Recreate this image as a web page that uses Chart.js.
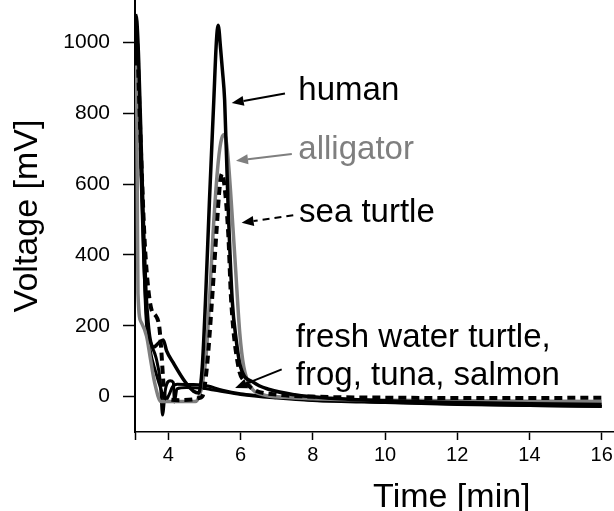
<!DOCTYPE html>
<html>
<head>
<meta charset="utf-8">
<title>Voltage vs time</title>
<script src="https://cdn.jsdelivr.net/npm/chart.js@4"></script>
<style>
  html, body { margin: 0; padding: 0; background: #fff; }
  #wrap { width: 614px; height: 511px; }
</style>
</head>
<body>
<div id="wrap"><canvas id="chart"></canvas></div>
<script>
// traces: time in min, signal in mV
const humanTime = [3.09, 3.13, 3.18, 3.23, 3.28, 3.33, 3.38, 3.44, 3.5, 3.6, 3.72, 3.86, 3.95, 4.14, 4.47, 4.7, 4.84, 4.94, 5.03, 5.14, 5.26, 5.33, 5.38, 5.45, 5.5, 5.56, 5.65, 5.77, 5.88, 6.0, 6.36, 6.8, 7.5, 8.5, 10, 12, 14, 16];
const humanMv = [1080, 1060, 950, 780, 600, 430, 300, 210, 160, 140, 150, 160, 130, 95, 41, 15, 10, 84, 272, 555, 837, 1000, 1049, 980, 920, 837, 555, 272, 160, 84, 40, 20, 5, -5, -12, -17, -20, -22];

const seaTurtleTime = [3.09, 3.14, 3.2, 3.27, 3.35, 3.45, 3.55, 3.64, 3.75, 3.8, 3.85, 3.9, 4.0, 4.3, 4.7, 4.85, 4.94, 5.07, 5.21, 5.33, 5.43, 5.49, 5.55, 5.66, 5.74, 5.94, 6.15, 6.36, 7, 8, 10, 12, 14, 16];
const seaTurtleMv = [1070, 1000, 820, 620, 430, 300, 240, 230, 197, 140, 60, 0, -8, -10, -8, -4, 0, 84, 272, 460, 600, 630, 600, 460, 272, 84, 40, 20, 6, 0, -3, -4, -4, -3];

const alligatorTime = [3.12, 3.14, 3.16, 3.25, 3.4, 3.5, 3.62, 3.8, 4.2, 4.75, 4.85, 4.95, 5.05, 5.15, 5.25, 5.38, 5.48, 5.56, 5.64, 5.74, 5.86, 5.98, 6.09, 6.28, 6.64, 7.2, 8, 10, 12, 14, 16];
const alligatorMv = [935, 600, 292, 210, 170, 110, 40, -14, -14, -14, 0, 40, 120, 290, 480, 660, 730, 740, 690, 555, 366, 178, 84, 28, 5, -2, -6, -10, -12, -13, -14];

const freshTime = [3.09, 3.15, 3.22, 3.3, 3.38, 3.5, 3.65, 3.8, 3.92, 4.02, 4.12, 4.25, 4.6, 4.95, 5.1, 5.5, 6.0, 6.5, 7.1, 8, 9, 10, 12, 14, 16];
const freshMv = [1075, 980, 750, 460, 230, 130, 70, 20, -12, 5, 28, 35, 34, 33, 30, 18, 8, 3, -2, -10, -13, -16, -21, -25, -28];

const frogTime = [3.09, 3.16, 3.24, 3.32, 3.42, 3.52, 3.66, 3.78, 3.84, 3.92, 4.05, 4.14, 4.17, 4.24, 4.5, 4.9, 5.3, 6, 7, 8, 10, 12, 14, 16];
const frogMv = [1040, 900, 640, 380, 200, 150, 110, 40, -52, 20, 45, 40, -15, 22, 26, 24, 18, 6, -4, -11, -17, -22, -25, -27];

const timeTicks = [4, 6, 8, 10, 12, 14, 16];
const voltTicks = [0, 200, 400, 600, 800, 1000];

const FONT = "'Liberation Sans', Arial, sans-serif";
const GREY = '#7f7f7f';

// annotation texts and arrows, anchored in data units
const notes = [
    { lines: ['human'], at: [7.6, 837], color: '#000', from: [7.23, 856], to: [5.755, 829] },
    { lines: ['alligator'], at: [7.6, 672], color: GREY, from: [7.42, 685], to: [5.874, 666] },
    { lines: ['sea turtle'], at: [7.62, 494], color: '#000', from: [7.46, 512], to: [6.03, 491], dashed: true },
    { lines: ['fresh water turtle,', 'frog, tuna, salmon'], at: [7.53, 141], color: '#000', from: [7.14, 77], to: [5.85, 24] }
];

function toPoints(times, values) {
    return times.map((t, i) => ({ x: t, y: values[i] }));
}

function trace(times, values, color, width, dash) {
    return {
        data: toPoints(times, values),
        borderColor: color,
        borderWidth: width,
        borderDash: dash || [],
        pointRadius: 0,
        fill: false,
        cubicInterpolationMode: 'monotone'
    };
}

const notesPlugin = {
    id: 'notes',
    afterDraw(chart) {
        const ctx = chart.ctx;
        const xs = chart.scales.x;
        const ys = chart.scales.y;
        ctx.save();
        ctx.font = '33px ' + FONT;
        ctx.textBaseline = 'alphabetic';
        ctx.textAlign = 'left';

        notes.forEach(n => {
            ctx.fillStyle = n.color;
            ctx.strokeStyle = n.color;
            const tx = xs.getPixelForValue(n.at[0]);
            const ty = ys.getPixelForValue(n.at[1]);
            n.lines.forEach((line, i) => ctx.fillText(line, tx, ty + i * 38.5));

            const x0 = xs.getPixelForValue(n.from[0]), y0 = ys.getPixelForValue(n.from[1]);
            const x1 = xs.getPixelForValue(n.to[0]), y1 = ys.getPixelForValue(n.to[1]);
            const a = Math.atan2(y1 - y0, x1 - x0);
            const head = 12, half = 5;
            const bx = x1 - head * Math.cos(a), by = y1 - head * Math.sin(a);
            ctx.lineWidth = 2;
            ctx.setLineDash(n.dashed ? [7, 5] : []);
            ctx.beginPath();
            ctx.moveTo(x0, y0);
            ctx.lineTo(bx, by);
            ctx.stroke();
            ctx.setLineDash([]);
            ctx.beginPath();
            ctx.moveTo(x1, y1);
            ctx.lineTo(bx + half * Math.sin(a), by - half * Math.cos(a));
            ctx.lineTo(bx - half * Math.sin(a), by + half * Math.cos(a));
            ctx.closePath();
            ctx.fill();
        });

        // x axis title sits right of centre in the original
        ctx.font = '34px ' + FONT;
        ctx.fillStyle = '#000';
        ctx.textAlign = 'center';
        ctx.fillText('Time [min]', xs.getPixelForValue(11.85), xs.bottom - 4);
        ctx.restore();
    }
};

const ctx = document.getElementById('chart').getContext('2d');
new Chart(ctx, {
    type: 'line',
    data: {
        datasets: [
            trace(humanTime, humanMv, '#000', 3.5),
            trace(seaTurtleTime, seaTurtleMv, '#000', 4, [8, 5]),
            trace(alligatorTime, alligatorMv, GREY, 3.5),
            trace(freshTime, freshMv, '#000', 3),
            trace(frogTime, frogMv, '#000', 3)
        ]
    },
    options: {
        responsive: true,
        maintainAspectRatio: false,
        animation: false,
        layout: { padding: 0 },
        plugins: {
            legend: { display: false },
            tooltip: { enabled: false }
        },
        scales: {
            x: {
                type: 'linear',
                min: 3.078,
                max: 16.34,
                afterBuildTicks: scale => {
                    scale.ticks = [scale.min].concat(timeTicks).map(v => ({ value: v }));
                },
                afterFit: scale => {
                    scale.height = 79;
                    scale.paddingLeft = 0;
                    scale.paddingRight = 0;
                },
                ticks: {
                    autoSkip: false,
                    maxRotation: 0,
                    padding: 3,
                    color: '#000',
                    font: { family: FONT, size: 20 },
                    callback: v => timeTicks.includes(v) ? String(v) : ''
                },
                grid: {
                    drawOnChartArea: false,
                    drawTicks: true,
                    tickLength: 8,
                    tickColor: '#000',
                    tickWidth: 1.5
                },
                border: { display: true, color: '#000', width: 1.5 },
                title: { display: false }
            },
            y: {
                min: -100,
                max: 1120,
                afterBuildTicks: scale => {
                    scale.ticks = voltTicks.map(v => ({ value: v }));
                },
                afterFit: scale => {
                    scale.width = 135;
                    scale.paddingTop = 0;
                    scale.paddingBottom = 0;
                },
                ticks: {
                    padding: 13,
                    color: '#000',
                    font: { family: FONT, size: 21 },
                    callback: v => String(v)
                },
                grid: {
                    drawOnChartArea: false,
                    drawTicks: true,
                    tickLength: 12,
                    tickColor: '#000',
                    tickWidth: 1.5
                },
                border: { display: true, color: '#000', width: 2 },
                title: {
                    display: true,
                    text: 'Voltage [mV]',
                    color: '#000',
                    font: { family: FONT, size: 34, lineHeight: 1 },
                    padding: { top: 11, bottom: 0 }
                }
            }
        }
    },
    plugins: [notesPlugin]
});
</script>
</body>
</html>
